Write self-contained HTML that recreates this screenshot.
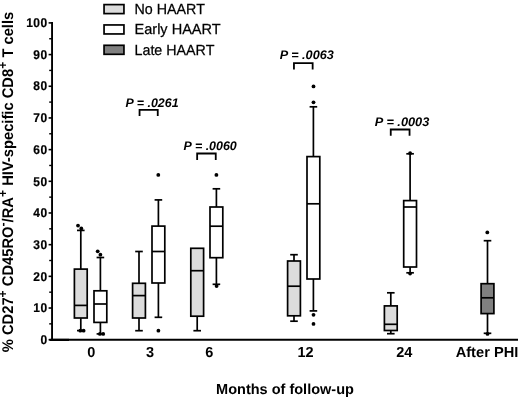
<!DOCTYPE html>
<html><head><meta charset="utf-8"><title>Figure</title>
<style>html,body{margin:0;padding:0;background:#fff;}body{width:520px;height:398px;overflow:hidden;}svg{display:block;will-change:transform;}text{text-rendering:geometricPrecision;font-family:"Liberation Sans",Arial,Helvetica,sans-serif;fill:#000;}</style>
</head><body>
<svg width="520" height="398" viewBox="0 0 520 398">
<rect width="520" height="398" fill="#fff"/>
<g stroke="#000" fill="none">
<line x1="52.05" y1="22.1" x2="52.05" y2="340.59999999999997" stroke-width="1.9"/>
<line x1="51" y1="339.7" x2="518" y2="339.7" stroke-width="2"/>
<line x1="49.5" y1="339.9" x2="69" y2="339.9" stroke-width="2.2"/>
<line x1="48.6" y1="339.70" x2="52" y2="339.70" stroke-width="1.6"/>
<line x1="49.2" y1="323.86" x2="52" y2="323.86" stroke-width="1.4"/>
<line x1="48.6" y1="308.02" x2="52" y2="308.02" stroke-width="1.6"/>
<line x1="49.2" y1="292.18" x2="52" y2="292.18" stroke-width="1.4"/>
<line x1="48.6" y1="276.34" x2="52" y2="276.34" stroke-width="1.6"/>
<line x1="49.2" y1="260.50" x2="52" y2="260.50" stroke-width="1.4"/>
<line x1="48.6" y1="244.66" x2="52" y2="244.66" stroke-width="1.6"/>
<line x1="49.2" y1="228.82" x2="52" y2="228.82" stroke-width="1.4"/>
<line x1="48.6" y1="212.98" x2="52" y2="212.98" stroke-width="1.6"/>
<line x1="49.2" y1="197.14" x2="52" y2="197.14" stroke-width="1.4"/>
<line x1="48.6" y1="181.30" x2="52" y2="181.30" stroke-width="1.6"/>
<line x1="49.2" y1="165.46" x2="52" y2="165.46" stroke-width="1.4"/>
<line x1="48.6" y1="149.62" x2="52" y2="149.62" stroke-width="1.6"/>
<line x1="49.2" y1="133.78" x2="52" y2="133.78" stroke-width="1.4"/>
<line x1="48.6" y1="117.94" x2="52" y2="117.94" stroke-width="1.6"/>
<line x1="49.2" y1="102.10" x2="52" y2="102.10" stroke-width="1.4"/>
<line x1="48.6" y1="86.26" x2="52" y2="86.26" stroke-width="1.6"/>
<line x1="49.2" y1="70.42" x2="52" y2="70.42" stroke-width="1.4"/>
<line x1="48.6" y1="54.58" x2="52" y2="54.58" stroke-width="1.6"/>
<line x1="49.2" y1="38.74" x2="52" y2="38.74" stroke-width="1.4"/>
<line x1="48.6" y1="22.90" x2="52" y2="22.90" stroke-width="1.6"/>
</g>
<g font-size="12" font-weight="bold" text-anchor="end" letter-spacing="0.45" stroke="#000" stroke-width="0.2">
<text transform="translate(47.6,343.90) scale(1,1.06)">0</text>
<text transform="translate(47.6,312.22) scale(1,1.06)">10</text>
<text transform="translate(47.6,280.54) scale(1,1.06)">20</text>
<text transform="translate(47.6,248.86) scale(1,1.06)">30</text>
<text transform="translate(47.6,217.18) scale(1,1.06)">40</text>
<text transform="translate(47.6,185.50) scale(1,1.06)">50</text>
<text transform="translate(47.6,153.82) scale(1,1.06)">60</text>
<text transform="translate(47.6,122.14) scale(1,1.06)">70</text>
<text transform="translate(47.6,90.46) scale(1,1.06)">80</text>
<text transform="translate(47.6,58.78) scale(1,1.06)">90</text>
<text transform="translate(47.6,27.10) scale(1,1.06)">100</text>
</g>
<g font-size="14.5" font-weight="bold" text-anchor="middle">
<text x="91.4" y="357.2">0</text>
<text x="150.1" y="357.2">3</text>
<text x="209.2" y="357.2">6</text>
<text x="305.5" y="357.2">12</text>
<text x="404.2" y="357.2">24</text>
<text x="487.0" y="356.7" font-size="14.5" textLength="62.6" lengthAdjust="spacingAndGlyphs">After PHI</text>
</g>
<text x="285" y="394.3" font-size="14.5" font-weight="bold" text-anchor="middle" textLength="137.8" lengthAdjust="spacingAndGlyphs">Months of follow-up</text>
<text transform="translate(13.45,352.2) rotate(-90) scale(1,1.05)" font-size="14.72" font-weight="bold">% CD27<tspan dy="-6.2" font-size="12.2">+</tspan><tspan dy="6.2"> CD45RO</tspan><tspan dy="-6.2" font-size="12.2">-</tspan><tspan dy="6.2">/RA</tspan><tspan dy="-6.2" font-size="12.2">+</tspan><tspan dy="6.2"> HIV-specific CD8</tspan><tspan dy="-6.2" font-size="12.2">+</tspan><tspan dy="6.2"> T cells</tspan></text>
<rect x="104.05" y="4.60" width="19.9" height="9.0" fill="#dcdcdc" stroke="#000" stroke-width="1.7"/>
<text x="134.5" y="13.90" font-size="14.7" stroke="#000" stroke-width="0.25" textLength="70.4" lengthAdjust="spacingAndGlyphs">No HAART</text>
<rect x="104.05" y="24.95" width="19.9" height="9.0" fill="#fff" stroke="#000" stroke-width="1.7"/>
<text x="134.5" y="34.25" font-size="14.7" stroke="#000" stroke-width="0.25" textLength="86.2" lengthAdjust="spacingAndGlyphs">Early HAART</text>
<rect x="104.05" y="45.30" width="19.9" height="9.0" fill="#808080" stroke="#000" stroke-width="1.7"/>
<text x="134.5" y="54.60" font-size="14.7" stroke="#000" stroke-width="0.25" textLength="79.9" lengthAdjust="spacingAndGlyphs">Late HAART</text>
<g stroke="#000" stroke-width="1.7" fill="none">
<line x1="80.8" y1="230.4" x2="80.8" y2="269.1"/>
<line x1="77.0" y1="230.4" x2="84.6" y2="230.4"/>
<line x1="80.8" y1="318" x2="80.8" y2="330.6"/>
<line x1="77.0" y1="330.6" x2="84.6" y2="330.6"/>
<rect x="74.40" y="269.1" width="12.8" height="48.90" fill="#dcdcdc"/>
<line x1="74.39999999999999" y1="305.4" x2="87.2" y2="305.4"/>
</g>
<circle cx="78" cy="225.6" r="1.9" fill="#000"/>
<circle cx="81.3" cy="228.5" r="1.9" fill="#000"/>
<circle cx="80.3" cy="330.7" r="1.9" fill="#000"/>
<circle cx="83.6" cy="330.7" r="1.9" fill="#000"/>
<g stroke="#000" stroke-width="1.7" fill="none">
<line x1="100.4" y1="257.5" x2="100.4" y2="290.8"/>
<line x1="96.60000000000001" y1="257.5" x2="104.2" y2="257.5"/>
<line x1="100.4" y1="322.4" x2="100.4" y2="333.9"/>
<line x1="96.60000000000001" y1="333.9" x2="104.2" y2="333.9"/>
<rect x="94.00" y="290.8" width="12.8" height="31.60" fill="#fff"/>
<line x1="94.0" y1="304" x2="106.80000000000001" y2="304"/>
</g>
<circle cx="97.7" cy="251.3" r="1.9" fill="#000"/>
<circle cx="100.4" cy="254.7" r="1.9" fill="#000"/>
<circle cx="99.9" cy="333.9" r="1.9" fill="#000"/>
<circle cx="103.2" cy="333.9" r="1.9" fill="#000"/>
<g stroke="#000" stroke-width="1.7" fill="none">
<line x1="139" y1="251.5" x2="139" y2="283.3"/>
<line x1="135.2" y1="251.5" x2="142.8" y2="251.5"/>
<line x1="139" y1="318" x2="139" y2="330.7"/>
<line x1="135.2" y1="330.7" x2="142.8" y2="330.7"/>
<rect x="132.60" y="283.3" width="12.8" height="34.70" fill="#dcdcdc"/>
<line x1="132.6" y1="295.6" x2="145.4" y2="295.6"/>
</g>
<g stroke="#000" stroke-width="1.7" fill="none">
<line x1="158.4" y1="199.9" x2="158.4" y2="226.1"/>
<line x1="154.6" y1="199.9" x2="162.20000000000002" y2="199.9"/>
<line x1="158.4" y1="283" x2="158.4" y2="317.3"/>
<line x1="154.6" y1="317.3" x2="162.20000000000002" y2="317.3"/>
<rect x="152.00" y="226.1" width="12.8" height="56.90" fill="#fff"/>
<line x1="152.0" y1="251.5" x2="164.8" y2="251.5"/>
</g>
<circle cx="158.3" cy="174.9" r="1.9" fill="#000"/>
<circle cx="158.4" cy="330.7" r="1.9" fill="#000"/>
<g stroke="#000" stroke-width="1.7" fill="none">
<line x1="197.2" y1="316.2" x2="197.2" y2="330.7"/>
<line x1="193.39999999999998" y1="330.7" x2="201.0" y2="330.7"/>
<rect x="190.80" y="248.3" width="12.8" height="67.90" fill="#dcdcdc"/>
<line x1="190.79999999999998" y1="270.7" x2="203.6" y2="270.7"/>
</g>
<g stroke="#000" stroke-width="1.7" fill="none">
<line x1="216.4" y1="188.8" x2="216.4" y2="207"/>
<line x1="212.6" y1="188.8" x2="220.20000000000002" y2="188.8"/>
<line x1="216.4" y1="257.7" x2="216.4" y2="284.3"/>
<line x1="212.6" y1="284.3" x2="220.20000000000002" y2="284.3"/>
<rect x="210.00" y="207" width="12.8" height="50.70" fill="#fff"/>
<line x1="210.0" y1="226.2" x2="222.8" y2="226.2"/>
</g>
<circle cx="216.4" cy="174.9" r="1.9" fill="#000"/>
<circle cx="216.6" cy="286.1" r="1.9" fill="#000"/>
<g stroke="#000" stroke-width="1.7" fill="none">
<line x1="294" y1="254.7" x2="294" y2="261"/>
<line x1="290.2" y1="254.7" x2="297.8" y2="254.7"/>
<line x1="294" y1="315.8" x2="294" y2="321.2"/>
<line x1="290.2" y1="321.2" x2="297.8" y2="321.2"/>
<rect x="287.60" y="261" width="12.8" height="54.80" fill="#dcdcdc"/>
<line x1="287.6" y1="286.2" x2="300.4" y2="286.2"/>
</g>
<g stroke="#000" stroke-width="1.7" fill="none">
<line x1="313.4" y1="106.8" x2="313.4" y2="156.6"/>
<line x1="309.59999999999997" y1="106.8" x2="317.2" y2="106.8"/>
<line x1="313.4" y1="279" x2="313.4" y2="310.9"/>
<line x1="309.59999999999997" y1="310.9" x2="317.2" y2="310.9"/>
<rect x="307.00" y="156.6" width="12.8" height="122.40" fill="#fff"/>
<line x1="307.0" y1="203.8" x2="319.79999999999995" y2="203.8"/>
</g>
<circle cx="313.5" cy="86.4" r="1.9" fill="#000"/>
<circle cx="313.5" cy="102.3" r="1.9" fill="#000"/>
<circle cx="313.5" cy="314.8" r="1.9" fill="#000"/>
<circle cx="313.5" cy="323.9" r="1.9" fill="#000"/>
<g stroke="#000" stroke-width="1.7" fill="none">
<line x1="390.8" y1="292.8" x2="390.8" y2="305.9"/>
<line x1="387.0" y1="292.8" x2="394.6" y2="292.8"/>
<line x1="390.8" y1="330.5" x2="390.8" y2="333.7"/>
<line x1="387.0" y1="333.7" x2="394.6" y2="333.7"/>
<rect x="384.40" y="305.9" width="12.8" height="24.60" fill="#dcdcdc"/>
<line x1="384.40000000000003" y1="324.3" x2="397.2" y2="324.3"/>
</g>
<g stroke="#000" stroke-width="1.7" fill="none">
<line x1="410.1" y1="153.8" x2="410.1" y2="200.6"/>
<line x1="406.3" y1="153.8" x2="413.90000000000003" y2="153.8"/>
<line x1="410.1" y1="267" x2="410.1" y2="272.8"/>
<line x1="406.3" y1="272.8" x2="413.90000000000003" y2="272.8"/>
<rect x="403.70" y="200.6" width="12.8" height="66.40" fill="#fff"/>
<line x1="403.70000000000005" y1="207" x2="416.5" y2="207"/>
</g>
<circle cx="410.1" cy="153.2" r="1.9" fill="#000"/>
<circle cx="410.1" cy="273.6" r="1.9" fill="#000"/>
<g stroke="#000" stroke-width="1.7" fill="none">
<line x1="487.5" y1="240.7" x2="487.5" y2="283.7"/>
<line x1="483.7" y1="240.7" x2="491.3" y2="240.7"/>
<line x1="487.5" y1="313.6" x2="487.5" y2="333.3"/>
<line x1="483.7" y1="333.3" x2="491.3" y2="333.3"/>
<rect x="481.10" y="283.7" width="12.8" height="29.90" fill="#808080"/>
<line x1="481.1" y1="297.8" x2="493.9" y2="297.8"/>
</g>
<circle cx="487.3" cy="232.4" r="1.9" fill="#000"/>
<circle cx="487.5" cy="333.9" r="1.9" fill="#000"/>
<text x="125.5" y="106.6" font-size="12.4" font-weight="bold" font-style="italic" textLength="53.1" lengthAdjust="spacingAndGlyphs">P = .0261</text>
<path d="M139.55 116.0 V109.8 H157.75 V116.0" fill="none" stroke="#000" stroke-width="1.8"/>
<text x="183.6" y="150.3" font-size="12.4" font-weight="bold" font-style="italic" textLength="53.2" lengthAdjust="spacingAndGlyphs">P = .0060</text>
<path d="M197.15 159.9 V153.5 H215.75 V159.9" fill="none" stroke="#000" stroke-width="1.8"/>
<text x="279.7" y="58.9" font-size="12.4" font-weight="bold" font-style="italic" textLength="54.1" lengthAdjust="spacingAndGlyphs">P = .0063</text>
<path d="M293.95 69.5 V63.2 H312.65 V69.5" fill="none" stroke="#000" stroke-width="1.8"/>
<text x="374.8" y="126.1" font-size="12.4" font-weight="bold" font-style="italic" textLength="54.5" lengthAdjust="spacingAndGlyphs">P = .0003</text>
<path d="M390.75 135.8 V129.5 H409.55 V135.8" fill="none" stroke="#000" stroke-width="1.8"/>
</svg></body></html>
